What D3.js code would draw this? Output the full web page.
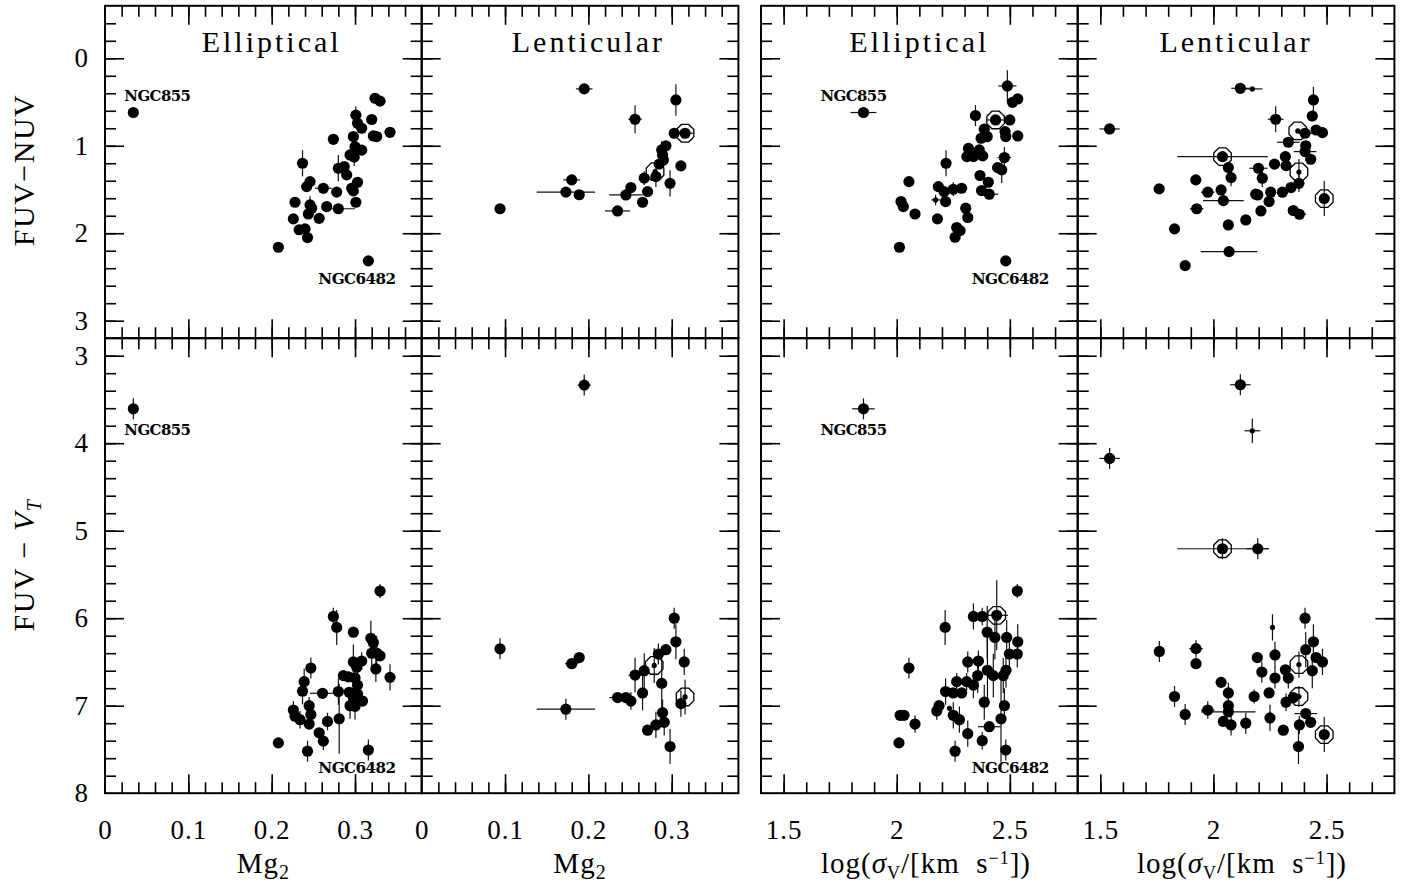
<!DOCTYPE html>
<html><head><meta charset="utf-8">
<script src="https://cdn.jsdelivr.net/npm/d3@7"></script>
<style>body{margin:0;background:#fff}svg{display:block}</style>
</head><body>
<svg id="c" width="1403" height="884"></svg>
<script>
// ---- data: [x, y, xerr, yerr, marker]  marker: f=filled, s=small dot, r=ring+dot, rs=ring+small dot
const ellMgNuv = [
[0.034,0.62,0,0.02,'f'],[0.324,0.457,0,0.06,'f'],[0.330,0.49,0,0,'f'],[0.301,0.65,0,0.1,'f'],
[0.320,0.70,0,0,'f'],[0.303,0.743,0,0,'f'],[0.308,0.80,0,0,'f'],[0.342,0.846,0,0,'f'],
[0.322,0.888,0,0,'f'],[0.326,0.895,0,0,'f'],[0.274,0.926,0,0,'f'],[0.298,0.895,0,0.05,'f'],
[0.300,1.01,0,0.05,'f'],[0.308,1.05,0,0,'f'],[0.294,1.105,0,0.05,'f'],[0.299,1.13,0,0.1,'f'],
[0.280,1.257,0,0.15,'f'],[0.287,1.238,0,0,'f'],[0.290,1.333,0,0,'f'],[0.237,1.20,0,0.15,'f'],
[0.246,1.41,0,0,'f'],[0.242,1.467,0,0.05,'f'],[0.262,1.486,0.01,0.06,'f'],[0.278,1.53,0,0,'f'],
[0.303,1.417,0,0,'f'],[0.296,1.486,0,0,'f'],[0.298,1.516,0,0,'f'],[0.228,1.646,0,0,'f'],
[0.246,1.676,0,0.1,'f'],[0.248,1.714,0,0,'f'],[0.266,1.695,0,0.06,'f'],[0.280,1.72,0.02,0,'f'],
[0.301,1.646,0,0,'f'],[0.244,1.78,0,0,'f'],[0.257,1.83,0,0,'f'],[0.226,1.836,0,0,'f'],
[0.233,1.96,0,0,'f'],[0.240,1.95,0,0,'f'],[0.243,2.05,0,0,'f'],[0.208,2.16,0,0,'f'],
[0.316,2.316,0,0,'f']];
const lenMgNuv = [
[0.195,0.35,0.01,0,'f'],[0.305,0.476,0,0.18,'f'],[0.256,0.697,0.008,0.16,'f'],[0.303,0.857,0,0,'f'],
[0.316,0.857,0.01,0,'r'],[0.293,1.0,0,0,'f'],[0.288,1.048,0,0.1,'f'],[0.289,1.105,0,0,'f'],
[0.290,1.162,0,0,'f'],[0.285,1.21,0,0,'f'],[0.311,1.23,0,0,'f'],[0.280,1.295,0,0,'rs'],
[0.267,1.37,0,0.08,'f'],[0.281,1.352,0,0.12,'f'],[0.298,1.43,0,0.15,'f'],[0.180,1.39,0.01,0,'f'],
[0.173,1.53,0.035,0,'f'],[0.189,1.56,0,0,'f'],[0.251,1.478,0,0,'f'],[0.245,1.562,0.02,0,'f'],
[0.271,1.524,0,0,'f'],[0.265,1.646,0,0,'f'],[0.235,1.745,0.015,0,'f'],[0.094,1.72,0,0,'f']];
const ellSigNuv = [
[1.853,0.62,0.057,0,'f'],[2.489,0.316,0.04,0.18,'f'],[2.512,0.503,0,0,'f'],[2.535,0.465,0,0,'f'],
[2.348,0.655,0,0.12,'f'],[2.437,0.705,0.04,0,'r'],[2.50,0.705,0,0,'f'],[2.387,0.81,0,0,'f'],
[2.479,0.838,0,0,'f'],[2.482,0.895,0,0,'f'],[2.535,0.888,0,0,'f'],[2.373,0.914,0,0,'f'],
[2.40,0.895,0,0,'f'],[2.317,1.03,0,0,'f'],[2.31,1.124,0,0,'f'],[2.339,1.124,0,0,'f'],
[2.365,1.048,0,0,'f'],[2.38,1.116,0,0,'f'],[2.476,1.135,0.03,0.12,'f'],[2.218,1.2,0,0.15,'f'],
[2.446,1.25,0,0,'f'],[2.464,1.276,0,0.15,'f'],[2.368,1.34,0,0,'f'],[2.405,1.417,0,0,'f'],
[2.054,1.41,0,0,'f'],[2.184,1.467,0,0.05,'f'],[2.209,1.524,0,0,'f'],[2.25,1.497,0,0.08,'f'],
[2.287,1.486,0,0,'f'],[2.375,1.512,0,0,'f'],[2.409,1.554,0.04,0,'f'],[2.172,1.619,0.02,0.06,'s'],
[2.216,1.638,0,0,'f'],[2.019,1.638,0,0,'f'],[2.029,1.695,0,0,'f'],[2.305,1.714,0,0,'f'],
[2.081,1.78,0,0,'f'],[2.314,1.82,0,0,'f'],[2.18,1.836,0,0,'f'],[2.265,1.935,0,0,'f'],
[2.28,1.97,0,0,'f'],[2.258,2.046,0,0,'f'],[2.012,2.16,0,0,'f'],[2.482,2.316,0,0,'f']];
const lenSigNuv = [
[1.541,0.808,0.045,0,'f'],[2.119,0.343,0.04,0,'f'],[2.172,0.35,0.045,0,'s'],[2.442,0.476,0,0.15,'f'],
[2.437,0.66,0,0.06,'f'],[2.275,0.697,0.035,0.15,'f'],[2.373,0.83,0,0,'rs'],[2.405,0.857,0.03,0,'f'],
[2.454,0.82,0,0,'f'],[2.482,0.85,0,0,'f'],[2.331,0.96,0.05,0,'f'],[2.408,1.0,0,0,'f'],
[2.405,1.067,0.05,0,'f'],[2.43,1.154,0,0,'f'],[2.04,1.124,0.2,0,'r'],[2.066,1.25,0,0,'f'],
[2.078,1.364,0,0.1,'f'],[2.318,1.124,0,0,'f'],[2.27,1.21,0,0,'f'],[2.321,1.227,0,0,'f'],
[2.199,1.257,0.04,0,'f'],[2.216,1.371,0,0.1,'f'],[2.378,1.30,0,0.15,'rs'],[2.378,1.43,0,0.1,'f'],
[2.343,1.478,0,0,'f'],[2.305,1.531,0,0,'f'],[2.253,1.531,0,0,'f'],[2.246,1.638,0,0,'f'],
[2.187,1.554,0,0,'f'],[2.196,1.562,0,0,'f'],[1.922,1.39,0,0,'f'],[1.975,1.531,0.03,0,'f'],
[2.034,1.505,0,0,'f'],[2.044,1.627,0.09,0,'f'],[1.76,1.493,0,0,'f'],[1.926,1.72,0.03,0,'f'],
[2.21,1.745,0,0,'f'],[2.143,1.848,0,0,'f'],[2.066,1.905,0,0,'f'],[2.353,1.74,0,0,'f'],
[2.38,1.783,0.03,0,'f'],[2.49,1.604,0,0.2,'r'],[1.828,1.95,0,0,'f'],[2.069,2.21,0.125,0,'f'],
[1.875,2.37,0,0,'f']];
const ellMgV = [
[0.034,3.607,0,0.12,'f'],[0.33,5.69,0,0.08,'f'],[0.274,5.98,0,0.1,'f'],[0.278,6.105,0,0.2,'f'],
[0.298,6.16,0,0,'f'],[0.319,6.23,0,0.2,'f'],[0.322,6.28,0,0,'f'],[0.32,6.40,0,0.15,'f'],
[0.326,6.40,0,0.2,'f'],[0.33,6.43,0,0,'f'],[0.325,6.58,0,0.15,'f'],[0.342,6.676,0,0.15,'f'],
[0.308,6.49,0,0.1,'f'],[0.298,6.50,0,0.2,'f'],[0.302,6.56,0,0,'f'],[0.286,6.656,0,0,'f'],
[0.292,6.67,0,0,'f'],[0.30,6.684,0,0,'f'],[0.303,6.765,0,0.15,'f'],[0.293,6.846,0,0,'f'],
[0.303,6.866,0,0,'f'],[0.298,6.907,0,0.15,'f'],[0.309,6.947,0,0,'f'],[0.294,7.0,0,0.15,'f'],
[0.30,7.008,0,0.15,'f'],[0.28,6.838,0,0.15,'f'],[0.261,6.858,0.015,0,'f'],[0.281,7.15,0,0.4,'f'],
[0.267,7.18,0,0.1,'f'],[0.247,6.57,0,0.12,'f'],[0.239,6.725,0,0.15,'f'],[0.237,6.834,0,0.15,'f'],
[0.245,7.0,0,0.1,'f'],[0.247,7.10,0,0.1,'f'],[0.245,7.21,0,0,'f'],[0.226,7.05,0,0.1,'f'],
[0.228,7.12,0,0,'f'],[0.234,7.16,0,0.1,'f'],[0.257,7.31,0,0,'f'],[0.262,7.405,0,0.1,'f'],
[0.208,7.425,0,0,'f'],[0.243,7.52,0,0.12,'f'],[0.316,7.506,0,0.12,'f']];
const lenMgV = [
[0.195,3.336,0.008,0.12,'f'],[0.094,6.35,0,0.12,'f'],[0.189,6.45,0,0,'f'],[0.18,6.52,0.008,0,'f'],
[0.173,7.04,0.035,0.12,'f'],[0.303,6.0,0,0.12,'f'],[0.305,6.27,0,0.2,'f'],[0.293,6.36,0,0,'f'],
[0.284,6.41,0,0.12,'f'],[0.315,6.50,0,0.15,'f'],[0.279,6.54,0,0.2,'rs'],[0.267,6.60,0,0.2,'f'],
[0.256,6.65,0.008,0.2,'f'],[0.288,6.745,0,0.3,'f'],[0.265,6.854,0,0.2,'f'],[0.235,6.907,0.01,0,'f'],
[0.245,6.907,0,0,'f'],[0.251,6.947,0,0.1,'f'],[0.311,6.976,0,0.15,'f'],[0.316,6.9,0,0.2,'rs'],
[0.289,7.08,0,0.15,'f'],[0.291,7.19,0,0.15,'f'],[0.281,7.22,0,0.15,'f'],[0.271,7.28,0,0,'f'],
[0.298,7.466,0,0.2,'f']];
const ellSigV = [
[1.853,3.607,0.05,0.12,'f'],[2.533,5.69,0,0.08,'f'],[2.339,5.98,0,0.15,'f'],[2.378,5.98,0,0.1,'f'],
[2.442,5.967,0.05,0.4,'r'],[2.214,6.105,0,0.2,'f'],[2.40,6.16,0,0.3,'f'],[2.434,6.22,0,0.25,'f'],
[2.486,6.22,0,0.2,'f'],[2.535,6.27,0,0.2,'f'],[2.498,6.41,0,0.15,'f'],[2.533,6.41,0,0.15,'f'],
[2.314,6.50,0,0.12,'f'],[2.361,6.49,0,0.12,'f'],[2.054,6.57,0,0.12,'f'],[2.401,6.595,0,0.4,'f'],
[2.483,6.595,0,0.2,'f'],[2.265,6.725,0,0.1,'f'],[2.309,6.725,0,0.1,'f'],[2.358,6.656,0,0.2,'f'],
[2.427,6.656,0,0.25,'f'],[2.471,6.656,0,0.2,'f'],[2.216,6.838,0,0.15,'f'],[2.25,6.854,0,0,'f'],
[2.287,6.854,0,0,'f'],[2.339,6.765,0,0.15,'f'],[2.387,6.96,0,0.2,'f'],[2.476,7.0,0,0.2,'f'],
[2.187,7.0,0,0,'f'],[2.177,7.06,0,0.1,'f'],[2.233,7.03,0,0,'s'],[2.015,7.11,0,0,'f'],
[2.032,7.11,0,0,'f'],[2.081,7.21,0,0.1,'f'],[2.25,7.11,0,0.15,'f'],[2.277,7.16,0,0.15,'f'],
[2.461,7.15,0,0.5,'f'],[2.409,7.24,0.05,0,'f'],[2.314,7.32,0,0.15,'f'],[2.378,7.40,0,0.1,'f'],
[2.01,7.425,0,0,'f'],[2.258,7.52,0,0.12,'f'],[2.482,7.506,0,0.12,'f']];
const lenSigV = [
[1.541,4.174,0.045,0.12,'f'],[2.119,3.332,0.045,0.12,'f'],[2.172,3.858,0.035,0.14,'s'],[2.04,5.206,0.2,0.12,'r'],
[2.196,5.206,0.05,0.12,'f'],[2.405,6.0,0,0.12,'f'],[2.261,6.105,0,0.15,'s'],[1.761,6.38,0,0.12,'f'],
[1.923,6.348,0.03,0.1,'f'],[1.923,6.52,0,0,'f'],[2.442,6.27,0,0.2,'f'],[2.408,6.36,0,0.2,'f'],
[2.454,6.45,0,0,'f'],[2.482,6.50,0,0.15,'f'],[2.272,6.42,0,0.15,'f'],[2.194,6.45,0,0,'f'],
[2.378,6.53,0,0.15,'rs'],[2.437,6.60,0,0.2,'f'],[2.214,6.615,0,0.12,'f'],[2.272,6.684,0,0.12,'f'],
[2.318,6.59,0,0,'f'],[2.331,6.684,0,0.12,'f'],[2.034,6.733,0,0,'f'],[2.066,6.854,0,0.12,'f'],
[2.246,6.854,0,0,'f'],[2.18,6.895,0,0.08,'f'],[2.378,6.895,0,0.12,'rs'],[2.353,6.907,0,0,'f'],
[2.321,6.96,0,0.1,'f'],[1.828,6.895,0,0.12,'f'],[2.066,7.0,0,0.12,'f'],[1.975,7.05,0.03,0.1,'f'],
[2.066,7.07,0.12,0,'f'],[1.875,7.10,0,0.12,'f'],[2.044,7.18,0,0,'f'],[2.078,7.22,0,0.12,'f'],
[2.143,7.20,0,0.12,'f'],[2.25,7.14,0,0.15,'f'],[2.408,7.09,0.05,0,'f'],[2.43,7.19,0,0,'f'],
[2.38,7.22,0,0.1,'f'],[2.309,7.28,0,0,'f'],[2.376,7.466,0,0.2,'f'],[2.49,7.33,0,0.2,'r']];

// tick values / labels
const mgMajor = [0, 0.1, 0.2, 0.3];
const sigMajor = [1.5, 2, 2.5];
const nuvMajor = [0, 1, 2, 3];
const vMajor = [3, 4, 5, 6, 7, 8];
const panelTitles = ["Elliptical", "Lenticular", "Elliptical", "Lenticular"];
// named objects: [panel index, x, y, text]
const notes = [
 [0, 0.034, 0.62, "NGC855"], [0, 0.316, 2.316, "NGC6482"],
 [2, 1.853, 0.62, "NGC855"], [2, 2.482, 2.316, "NGC6482"],
 [4, 0.034, 3.607, "NGC855"], [4, 0.316, 7.506, "NGC6482"],
 [6, 1.853, 3.607, "NGC855"], [6, 2.482, 7.506, "NGC6482"]];

// ---- layout
const svg = d3.select('#c');
svg.append('rect').attr('width',1403).attr('height',884).attr('fill','#fff');
const colX = [105, 421.7, 761, 1077.7], PW = 316.7;
const rowTop = [5.8, 338.2], rowBot = [338.2, 793.2];
const SERIF = "'Liberation Serif','DejaVu Serif',serif";

const rng = (a,b,s) => d3.range(Math.round(a/s), Math.round(b/s)+1).map(i => +(i*s).toFixed(4));

const panels = [
 {c:0,r:0,xt:'mg', d:ellMgNuv},{c:1,r:0,xt:'mg', d:lenMgNuv},
 {c:2,r:0,xt:'sig',d:ellSigNuv},{c:3,r:0,xt:'sig',d:lenSigNuv},
 {c:0,r:1,xt:'mg', d:ellMgV},{c:1,r:1,xt:'mg', d:lenMgV},
 {c:2,r:1,xt:'sig',d:ellSigV},{c:3,r:1,xt:'sig',d:lenSigV}];

panels.forEach((p,i) => {
  const x0 = colX[p.c], x1 = x0 + PW, y0 = rowTop[p.r], y1 = rowBot[p.r];
  p.x = p.xt==='mg' ? d3.scaleLinear().domain([0,0.38]).range([x0,x1])
                    : d3.scaleLinear().domain([1.4,2.8]).range([x0,x1]);
  p.y = p.r===0 ? d3.scaleLinear().domain([-0.6,3.2]).range([y0,y1])
                : d3.scaleLinear().domain([2.8,8]).range([y0,y1]);
  const xMin = p.xt==='mg' ? rng(0.02,0.36,0.02) : rng(1.5,2.7,0.1);
  const xMaj = p.xt==='mg' ? mgMajor.filter(v=>v>0) : sigMajor;
  const yMin = p.r===0 ? rng(-0.4,3.0,0.2) : rng(3.0,7.8,0.2);
  const yMaj = p.r===0 ? nuvMajor : vMajor.filter(v=>v<8);
  const g = svg.append('g');
  const clean = s => { s.select('.domain').remove(); s.selectAll('text').remove();
     s.selectAll('line').attr('stroke','#000').attr('stroke-width',1.6); };
  const mk = (axisFn, scale, vals, len, tr) =>
     g.append('g').attr('transform',tr).call(axisFn(scale).tickValues(vals).tickSize(-len)).call(clean);
  mk(d3.axisBottom, p.x, xMin, 11, `translate(0,${y1})`);
  mk(d3.axisBottom, p.x, xMaj, 19, `translate(0,${y1})`);
  mk(d3.axisTop, p.x, xMin, 11, `translate(0,${y0})`);
  mk(d3.axisTop, p.x, xMaj, 19, `translate(0,${y0})`);
  mk(d3.axisLeft, p.y, yMin, 11, `translate(${x0},0)`);
  mk(d3.axisLeft, p.y, yMaj, 19, `translate(${x0},0)`);
  mk(d3.axisRight, p.y, yMin, 11, `translate(${x1},0)`);
  mk(d3.axisRight, p.y, yMaj, 19, `translate(${x1},0)`);
  g.append('rect').attr('x',x0).attr('y',y0).attr('width',PW).attr('height',y1-y0)
    .attr('fill','none').attr('stroke','#000').attr('stroke-width',2);

  if (p.r===1) {
    const fmt = p.xt==='mg' ? (v => v===0 ? "0" : d3.format('.1f')(v)) : (v => d3.format('~g')(v));
    const ax = g.append('g').attr('transform',`translate(0,${y1})`)
      .call(d3.axisBottom(p.x).tickValues(p.xt==='mg'?mgMajor:sigMajor).tickSize(0).tickPadding(27).tickFormat(fmt));
    ax.select('.domain').remove();
    ax.selectAll('text').attr('font-family',SERIF).attr('font-size',27).attr('letter-spacing',1).attr('fill','#000');
  }
  if (p.c===0) {
    const ay = g.append('g').attr('transform',`translate(${x0},0)`)
      .call(d3.axisLeft(p.y).tickValues(p.r===0?nuvMajor:vMajor).tickSize(0).tickPadding(17).tickFormat(d3.format('d')));
    ay.select('.domain').remove();
    ay.selectAll('text').attr('font-family',SERIF).attr('font-size',27).attr('fill','#000');
  }
  if (p.r===0) {
    g.append('text').attr('x', p.x(p.xt==='mg'?0.2:2.1)).attr('y', y0+46)
      .attr('text-anchor','middle').attr('font-family',SERIF).attr('font-size',30)
      .attr('letter-spacing',3).text(panelTitles[p.c]);
  }

  const eb = g.append('g').attr('stroke','#111').attr('stroke-width',1.2);
  p.d.forEach(d => {
    if (d[2]>0) eb.append('line').attr('x1',p.x(d[0]-d[2])).attr('x2',p.x(d[0]+d[2])).attr('y1',p.y(d[1])).attr('y2',p.y(d[1]));
    if (d[3]>0) eb.append('line').attr('x1',p.x(d[0])).attr('x2',p.x(d[0])).attr('y1',p.y(d[1]-d[3])).attr('y2',p.y(d[1]+d[3]));
  });
  const oct = d3.range(8).map(k => { const a = Math.PI/8 + k*Math.PI/4; return [9.5*Math.cos(a), 9.5*Math.sin(a)]; });
  const mg = g.append('g');
  p.d.forEach(d => {
    const cx = p.x(d[0]), cy = p.y(d[1]);
    const big = d[4]==='f' || d[4]==='r';
    mg.append('circle').attr('cx',cx).attr('cy',cy).attr('r', big?5.6:2.6).attr('fill','#000');
    if (d[4]==='r' || d[4]==='rs') {
      mg.append('polygon').attr('points', oct.map(q=>[cx+q[0],cy+q[1]].join(',')).join(' '))
        .attr('fill','none').attr('stroke','#000').attr('stroke-width',1.3);
    }
  });
});

notes.forEach(n => {
  const p = panels[n[0]];
  const px = p.x(n[1]), py = p.y(n[2]);
  const isTop = p.r===0, is855 = n[3]==="NGC855";
  const dx = is855 ? (p.xt==='mg' ? -9 : -43) : (p.xt==='mg' ? -50 : -34);
  const dy = is855 ? (isTop ? -12 : 26) : 23;
  svg.append('text').attr('x',px+dx).attr('y',py+dy)
    .attr('font-family',"'DejaVu Serif',serif").attr('font-weight','bold').attr('font-size',15)
    .attr('letter-spacing',-0.6).attr('textLength', is855 ? 66 : 77).attr('lengthAdjust','spacingAndGlyphs')
    .text(n[3]);
});

const yt = (cy, build) => { const t = svg.append('text').attr('transform',`translate(34,${cy}) rotate(-90)`)
   .attr('text-anchor','middle').attr('font-family',SERIF).attr('font-size',30).attr('letter-spacing',1.5); build(t); };
yt(170, t => t.text('FUV−NUV'));
yt(565, t => { t.append('tspan').text('FUV − ');
  t.append('tspan').attr('font-style','italic').text('V');
  t.append('tspan').attr('font-style','italic').attr('font-size',20).attr('dy',7).text('T'); });

const xt = (cx, build) => { const t = svg.append('text').attr('x',cx).attr('y',873)
   .attr('text-anchor','middle').attr('font-family',SERIF).attr('font-size',29).attr('letter-spacing',1); build(t); };
[263.3, 580].forEach(cx => xt(cx, t => { t.append('tspan').text('Mg');
   t.append('tspan').attr('font-size',20).attr('dy',6).text('2'); }));
[926, 1242].forEach(cx => xt(cx, t => {
   t.append('tspan').text('log(');
   t.append('tspan').attr('font-style','italic').text('σ');
   t.append('tspan').attr('font-size',18).attr('dy',6).text('V');
   t.append('tspan').attr('dy',-6).text('/[km\u00a0\u00a0s');
   t.append('tspan').attr('font-size',18).attr('dy',-9).text('−1');
   t.append('tspan').attr('dy',9).text('])'); }));
</script>
</body></html>
